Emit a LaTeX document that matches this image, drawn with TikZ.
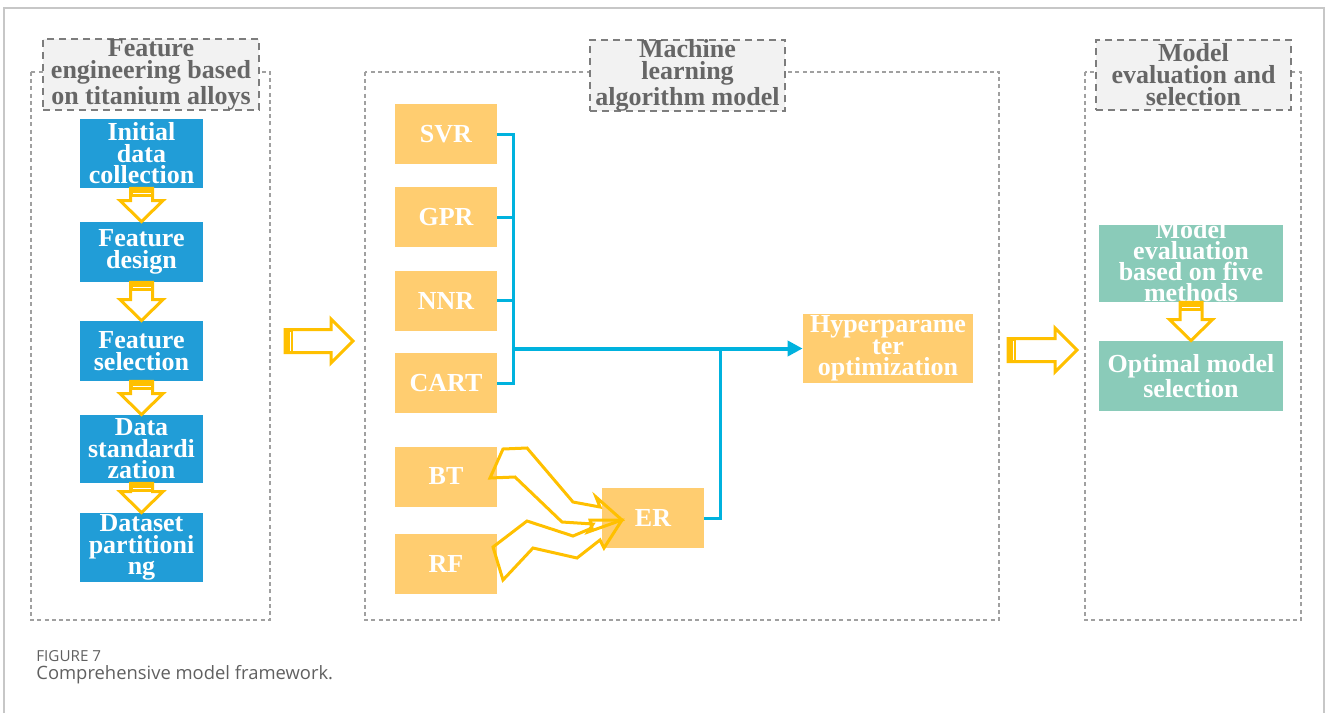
\documentclass[tikz,border=0pt]{standalone}
\usepackage{fontspec}
\setmainfont{Liberation Serif}
\newfontfamily\captionfont{Open Sans}
\usetikzlibrary{positioning,arrows.meta,calc}
\definecolor{stepblue}{RGB}{33,157,215}
\definecolor{algoorange}{RGB}{255,205,112}
\definecolor{evalgreen}{RGB}{138,203,185}
\definecolor{arrowgold}{RGB}{255,192,0}
\definecolor{linkcyan}{RGB}{0,178,222}
\definecolor{panelgray}{RGB}{160,160,160}
\definecolor{titlegray}{RGB}{125,125,125}
\definecolor{titlefill}{RGB}{242,242,242}
\definecolor{titletext}{RGB}{102,102,102}
\definecolor{captiongray}{RGB}{96,96,96}

% hollow block arrow pointing down, bottom of #1 to top of #2
\newcommand{\blockdown}[2]{%
  \fill[arrowgold] let \p1=(#1.south) in
    (\x1-5.5pt,\y1) rectangle (\x1+5.5pt,\y1-4.5pt);
  \draw[white,line width=0.4pt] let \p1=(#1.south) in
    (\x1-4.5pt,\y1-2.3pt) -- (\x1+4.5pt,\y1-2.3pt);
  \draw[blockarr] let \p1=(#1.south), \p2=(#2.north) in
    (\x1-5.5pt,\y1) -- (\x1-5.5pt,\y2+10.5pt) -- (\x1-10.75pt,\y2+10.5pt)
    -- (\x1,\y2) -- (\x1+10.75pt,\y2+10.5pt) -- (\x1+5.5pt,\y2+10.5pt)
    -- (\x1+5.5pt,\y1) -- cycle;
}

% hollow block arrow pointing right, from #1 to #2
\newcommand{\blockright}[2]{%
  \fill[arrowgold] let \p1=(#1) in
    (\x1,\y1-5.75pt) rectangle (\x1+4pt,\y1+5.75pt);
  \draw[white,line width=0.4pt] let \p1=(#1) in
    (\x1+2.8pt,\y1-4.75pt) -- (\x1+2.8pt,\y1+4.75pt);
  \draw[blockarr] let \p1=(#1), \p2=(#2) in
    (\x1,\y1+5.75pt) -- (\x2-11pt,\y1+5.75pt) -- (\x2-11pt,\y1+11pt)
    -- (\x2,\y1) -- (\x2-11pt,\y1-11pt) -- (\x2-11pt,\y1-5.75pt)
    -- (\x1,\y1-5.75pt) -- cycle;
}

\begin{document}
\begin{tikzpicture}[
    x=0.5pt, y=-0.5pt,
    panel/.style={
        draw=panelgray,
        line width=1.1pt,
        dash pattern=on 2pt off 1.6pt
    },
    titlebox/.style={
        draw=titlegray,
        fill=titlefill,
        line width=0.8pt,
        dash pattern=on 3.5pt off 2.5pt,
        inner sep=0pt,
        align=center,
        text=titletext,
        font=\bfseries\fontsize{13}{11}\selectfont
    },
    stepbox/.style={
        fill=stepblue,
        text=white,
        minimum width=61.5pt,
        inner sep=0pt,
        align=center,
        font=\bfseries\fontsize{13}{10.75}\selectfont
    },
    algobox/.style={
        fill=algoorange,
        text=white,
        minimum width=51pt,
        minimum height=30pt,
        inner sep=0pt,
        align=center,
        font=\bfseries\fontsize{13}{10.75}\selectfont
    },
    evalbox/.style={
        fill=evalgreen,
        text=white,
        minimum width=92pt,
        inner sep=0pt,
        align=center,
        font=\bfseries\fontsize{13}{10.5}\selectfont
    },
    link/.style={
        draw=linkcyan,
        line width=1.5pt
    },
    blockarr/.style={
        draw=arrowgold,
        line width=1.5pt
    }
]

\useasboundingbox (0,0) rectangle (1328,713);

% outer frame
\draw[black!22,line width=0.6pt] (4,713) -- (4,8) -- (1324,8) -- (1324,713);

% ============================================================
% PANELS
% ============================================================

\draw[panel] (31,72) rectangle (270,620);
\draw[panel] (365,72) rectangle (999,620);
\draw[panel] (1085,72) rectangle (1301,620);

\node[titlebox, minimum width=108pt, minimum height=35.5pt] (featuretitle) at (151,74.5)
{Feature\\engineering based\\on titanium alloys};

\node[titlebox, minimum width=97.5pt, minimum height=35.5pt] (mltitle) at (687.5,75.5)
{Machine\\learning\\algorithm model};

\node[titlebox, minimum width=97.5pt, minimum height=35pt] (evaltitle) at (1193.5,75)
{Model\\evaluation and\\selection};

% ============================================================
% FEATURE ENGINEERING — TOP TO BOTTOM
% ============================================================

\node[stepbox, minimum height=34.5pt] (collect) at (141.5,153.5)
{Initial\\data\\collection};

\node[stepbox, minimum height=30pt] (design) at (141.5,252)
{Feature\\design};

\node[stepbox, minimum height=30pt] (selection) at (141.5,351)
{Feature\\selection};

\node[stepbox, minimum height=34pt] (standard) at (141.5,449)
{Data\\standardi\\zation};

\node[stepbox, minimum height=34.5pt] (partition) at (141.5,547.5)
{Dataset\\partitioni\\ng};

\blockdown{collect}{design}
\blockdown{design}{selection}
\blockdown{selection}{standard}
\blockdown{standard}{partition}

% ============================================================
% ALGORITHMS
% ============================================================

\node[algobox] (svr) at (446,134) {SVR};
\node[algobox] (gpr) at (446,217) {GPR};
\node[algobox] (nnr) at (446,300.5) {NNR};
\node[algobox] (cart) at (446,383) {CART};
\node[algobox] (bt) at (446,476.5) {BT};
\node[algobox] (rf) at (446,564) {RF};
\node[algobox] (er) at (653,518) {ER};

\node[algobox, minimum width=85pt, minimum height=34.5pt] (hyper) at (888,348.5)
{Hyperparame\\ter\\optimization};

\coordinate (bus) at (513,348.5);
\coordinate (join) at (720,348.5);

\draw[link] (svr.east) -- (svr.east -| bus) -- (cart.east -| bus) -- (cart.east);
\draw[link] (gpr.east) -- (gpr.east -| bus);
\draw[link] (nnr.east) -- (nnr.east -| bus);
\draw[link, line width=2pt, -{Triangle[length=7.5pt,width=7.5pt]}] (bus) -- (hyper.west);
\draw[link] (er.east) -| (join);

% ensemble arrows into ER
\draw[blockarr] (490,478) -- (503,449) -- (527,448) -- (573,502) -- (600,507)
    -- (596,497) -- (622,520) -- (588,532) -- (593,524) -- (562,522)
    -- (515,477) -- cycle;
\draw[blockarr] (493,547) -- (527,521) -- (573,536) -- (592,528)
    -- (590,520) -- (622,520) -- (604,548) -- (600,540) -- (577,558)
    -- (533,548) -- (503,580) -- cycle;

% ============================================================
% EVALUATION
% ============================================================

\node[evalbox, minimum height=38.5pt] (evaluate) at (1191,263.5) {};
\node[evalbox, fill=none] (evaltext) at (1191,261.5)
{Model\\evaluation\\based on five\\methods};

\node[evalbox, minimum height=35pt] (optimal) at (1191,376)
{Optimal model\\selection};

\blockdown{evaluate}{optimal}

% ============================================================
% BETWEEN PANELS
% ============================================================

\coordinate (leftout) at (285,341);
\coordinate (midin) at (353,341);
\coordinate (midout) at (1008,350);
\coordinate (rightin) at (1077,350);

\blockright{leftout}{midin}
\blockright{midout}{rightin}

% caption
\node[anchor=west, inner sep=0pt, text=captiongray,
      font=\captionfont\fontsize{7.6}{8}\selectfont] (figlabel) at (36,656.5)
{FIGURE 7};
\node[anchor=west, inner sep=0pt, text=captiongray,
      font=\captionfont\fontsize{9.2}{10}\selectfont] (figcaption) at (36,675)
{Comprehensive model framework.};

\end{tikzpicture}
\end{document}
